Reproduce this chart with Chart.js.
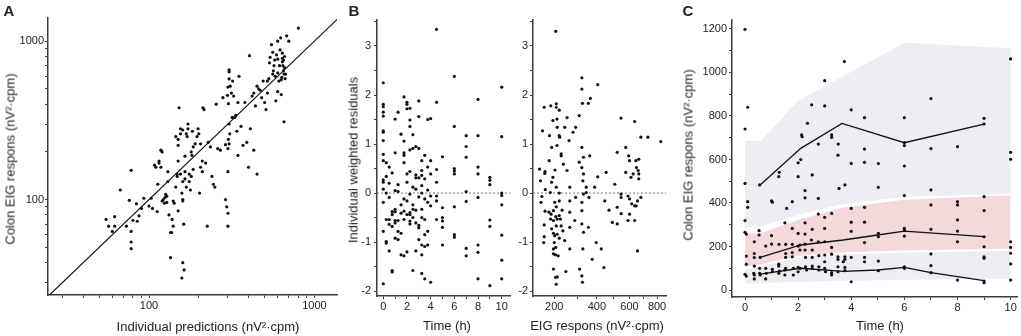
<!DOCTYPE html>
<html>
<head>
<meta charset="utf-8">
<script src="https://cdn.jsdelivr.net/npm/chart.js@4.4.1/dist/chart.umd.min.js"></script>
<style>
  body { margin: 0; background: #fff; }
  #wrap { position: relative; width: 1021px; height: 336px; overflow: hidden;
          font-family: "Liberation Sans", Arial, sans-serif; color: #222; }
  canvas { position: absolute; top: 0; }
  .panel { position: absolute; font-weight: bold; font-size: 15px; line-height: 1; transform: translate(-50%, -50%); }
  .xt { position: absolute; font-size: 13px; line-height: 1; white-space: nowrap; transform: translate(-50%, -50%); }
  .yt { position: absolute; font-size: 13px; line-height: 1; white-space: nowrap; transform: translate(-50%, -50%) rotate(-90deg); }
</style>
</head>
<body>
<div id="wrap">
  <canvas id="cA" width="345" height="336" style="left:0"></canvas>
  <canvas id="cB1" width="175" height="336" style="left:340px"></canvas>
  <canvas id="cB2" width="157" height="336" style="left:515px"></canvas>
  <canvas id="cC" width="331" height="336" style="left:690px"></canvas>

  <div class="panel" style="left:9px;top:10px">A</div>
  <div class="panel" style="left:354px;top:10px">B</div>
  <div class="panel" style="left:688px;top:10px">C</div>

  <div class="yt" style="left:10px;top:159px">Colon EIG respons (nV²·cpm)</div>
  <div class="xt" style="left:208px;top:326px">Individual predictions (nV²·cpm)</div>
  <div class="yt" style="left:353px;top:160px">Individual weighted residuals</div>
  <div class="xt" style="left:447px;top:325px">Time (h)</div>
  <div class="xt" style="left:597px;top:325px">EIG respons (nV²·cpm)</div>
  <div class="yt" style="left:688px;top:155px">Colon EIG respons (nV²·cpm)</div>
  <div class="xt" style="left:880px;top:325px">Time (h)</div>
</div>

<script>
// ---- panel A: observed vs individual predictions (log-log)
const aPred = [
  55, 57, 62, 62, 60, 73, 67, 76, 78, 78,
  78, 78, 80, 85, 87, 84, 93, 90, 100, 103,
  105, 108, 112, 113, 115, 118, 120, 120, 122, 125,
  126, 128, 124, 128, 118, 110, 115, 130, 130, 132,
  135, 137, 138, 140, 135, 140, 142, 145, 148, 148,
  150, 145, 150, 150, 152, 155, 155, 158, 160, 160,
  160, 162, 163, 165, 165, 168, 168, 170, 172, 172,
  175, 175, 160, 155, 158, 150, 160, 165, 178, 180,
  180, 182, 183, 185, 185, 190, 195, 198, 200, 202,
  205, 205, 210, 210, 212, 215, 220, 225, 228, 235,
  240, 245, 250, 255, 260, 270, 280, 290, 295, 300,
  300, 300, 300, 302, 305, 305, 308, 310, 305, 305,
  315, 318, 320, 325, 330, 335, 340, 345, 345, 350,
  360, 370, 380, 390, 400, 405, 410, 420, 430, 440,
  450, 430, 450, 460, 470, 480, 490, 500, 510, 520,
  530, 535, 540, 550, 560, 565, 570, 575, 580, 590,
  600, 600, 610, 615, 620, 625, 630, 630, 635, 640,
  640, 645, 650, 655, 655, 660, 665, 670, 680, 700,
  800, 585, 600, 640, 650, 660, 520, 560, 600, 305,
  300, 298, 302, 290
];
const aObs = [
  75, 68, 78, 68, 63, 68, 115, 99, 153, 63,
  54, 49, 74, 73, 79, 94, 102, 88, 91, 102,
  88, 165, 84, 125, 170, 205, 200, 98, 100, 103,
  108, 105, 95, 96, 160, 160, 175, 150, 130, 80,
  62, 62, 75, 68, 43, 98, 95, 120, 140, 145,
  175, 250, 240, 220, 380, 280, 145, 110, 100, 98,
  130, 70, 36, 150, 135, 120, 260, 250, 280, 300,
  145, 130, 275, 260, 32, 85, 40, 188, 115, 140,
  200, 190, 270, 215, 155, 225, 250, 280, 260, 110,
  160, 225, 150, 175, 380, 370, 170, 68, 230, 215,
  140, 125, 120, 400, 210, 205, 440, 100, 90, 82,
  68, 150, 210, 240, 300, 225, 260, 520, 660, 640,
  470, 330, 560, 450, 330, 340, 270, 190, 410, 600,
  290, 220, 410, 230, 160, 810, 280, 450, 205, 390,
  145, 470, 520, 500, 490, 440, 560, 410, 370, 470,
  580, 730, 790, 950, 620, 650, 700, 760, 600, 820,
  770, 630, 560, 700, 880, 1050, 570, 460, 590, 780,
  840, 700, 650, 620, 310, 680, 580, 620, 1080, 1000,
  1210, 420, 480, 740, 760, 800, 560, 850, 1000, 578,
  513, 455, 403, 222
];
const aLineEnds = [10, 2000];
const aTicks = [30, 40, 50, 60, 70, 80, 90, 100, 200, 300, 400, 500, 600, 700, 800, 900, 1000];
const aLabels = [100, 1000];

// ---- panel B left: residuals vs time
const bTimes = [0, 0.25, 0.5, 0.75, 1, 1.25, 1.5, 1.75, 2, 2.25, 2.5, 2.75, 3, 3.25, 3.5, 3.75, 4, 4.5, 5, 6, 7, 8, 9, 10];
const bTimeRes = [
  [2.25, 1.81, 1.76, 1.65, 1.57, 1.27, 1.24, 1.07, 0.79, 0.66, 0.27, 0.22, 0.08, -0.19, -0.78, -1.85],
  [0.62, 0.34, 0, -0.54, -0.99, -1.02],
  [0.53, 0.2, -0.09, -0.54, -0.64, -1.18],
  [0.41, -0.38, -0.44, -0.68, -1.58, -1.61],
  [1.51, 0.82, 0.05, -0.33, -0.38, -0.56, -0.61, -0.92],
  [1.65, 0.17, 0.03, -0.56, -0.78, -0.95],
  [1.2, -0.24, -0.41, -0.82, -1.26],
  [1.96, 1.06, 0.82, 0.77, 0.62, -0.12, -0.37, -0.54, -1.28],
  [1.85, 1.81, 1.72, 0.39, 0.22, -0.16, -0.44, -1.2],
  [1.73, 1.49, 1.36, 0.88, 0.44, -0.02, -0.4, -0.44, -0.57, -0.63],
  [1.19, 0.91, 0.12, -0.24, -0.33, -0.5, -1.58],
  [0.95, 0.37, 0.31, 0.08, -0.35, -0.61, -1.18],
  [1.88, 1.56, 0.91, 0.31, -0.08, -0.66, -0.71, -0.95],
  [0.66, 0.46, 0.36, 0.15, 0, -0.33, -0.5, -1.06, -1.26, -1.64],
  [0.77, 0.29, -0.12, -0.54, -0.85, -1.09, -1.75],
  [1.5, 0.53, 0.06, -0.19, -0.78, -1.06],
  [1.52, 0.66, 0.39, -0.06, -0.26, -1.82],
  [3.34, 1.85, 0.48, 0.22, -0.06, -0.16, -0.54],
  [0.74, -0.3, -0.5, -0.57, -0.7, -1.06],
  [2.38, 1.36, 0.5, 0.45, 0.39, -0.28, -0.85, -0.9],
  [1.17, 0.95, 0.73, 0.03, -0.17, -1.13, -1.28],
  [1.91, 1.17, 0.53, 0.39, -0.09, -1.06, -1.21, -1.75],
  [0.32, 0.26, 0.17, -0.55, -0.68, -1.89],
  [2.16, 1.15, 0, -0.05, -0.24, -0.86, -1.37, -1.75]
];
const bTimeTicks = [0, 1, 2, 3, 4, 5, 6, 7, 8, 9, 10];
const bTimeLabels = [0, 2, 4, 6, 8, 10];
const bResTicks = [-2, -1.5, -1, -0.5, 0, 0.5, 1, 1.5, 2, 2.5, 3, 3.5];
const bResLabels = [-2, -1, 0, 1, 2, 3];

// ---- panel B right: residuals vs EIG respons (square-root axis)
const bEig = [
  206, 163, 187, 208, 208, 220, 195, 211, 157, 212,
  182, 220, 222, 190, 211, 228, 228, 181, 203, 166,
  147, 150, 165, 195, 190, 167, 185, 208, 220, 155,
  152, 166, 180, 188, 197, 202, 208, 220, 186, 197,
  206, 212, 220, 225, 163, 190, 208, 228, 163, 197,
  202, 212, 220, 161, 200, 206, 197, 216, 197, 205,
  197, 205, 208, 212, 232, 235,
  253, 243, 280, 262, 292, 322, 322, 325, 355, 365,
  405, 309, 322, 330, 309, 237, 253, 322, 330, 327,
  362, 405, 292, 322, 330, 344, 344, 358, 388, 265,
  265, 265, 288, 265, 322, 322, 330, 355, 243, 265,
  327, 397, 425, 375, 248, 311, 322, 325, 440,
  453, 505, 445, 470, 490, 520, 545, 520, 544, 635,
  575, 595, 600, 575, 610, 625, 644, 648, 660, 664,
  664, 544, 590, 600, 615, 635, 645, 655, 679, 600,
  545, 590, 635, 520, 655, 679, 730, 829, 664
];
const bEigRes = [
  3.3, 1.75, 1.78, 1.82, 1.75, 1.69, 1.48, 1.51, 1.27, 1.34,
  1.17, 1.17, 1.14, 0.93, 0.97, 0.8, 0.76, 0.66, 0.47, 0.44,
  0.49, 0.25, 0.4, 0.32, 0.22, 0.07, 0.01, 0.12, 0, -0.07,
  -0.19, -0.37, -0.39, -0.43, -0.36, -0.19, -0.28, -0.16, -0.53, -0.56,
  -0.48, -0.53, -0.46, -0.53, -0.65, -0.73, -0.67, -0.67, -0.89, -0.82,
  -0.87, -0.84, -0.92, -1.01, -1.01, -1.11, -1.14, -1.28, -1.24, -1.26,
  -1.55, -1.72, -1.86, -1.71, -0.35, -0.77,
  1.54, 1.34, 1.24, 1.07, 1.34, 2.35, 2.12, 1.83, 1.83, 1.93,
  2.21, 1.58, 0.93, 0.73, 0.63, 0.59, 0.46, 0.52, 0.39, 0.25,
  0.76, 0.33, -0.09, -0.19, -0.02, 0.12, 0.01, -0.09, 0.12, 0.12,
  -0.16, -0.39, -0.56, -0.7, -0.36, -0.63, -0.8, -0.7, -0.97, -1.14,
  -1.14, -1.01, -1.14, -1.35, -1.6, -1.55, -1.69, -1.82, -1.52,
  0.42, 0.18, -0.16, -0.35, -0.6, -0.29, -0.09, 0.83, 1.53, 1.46,
  0.93, 0.76, 0.66, 0.42, 0.32, 0.39, 0.66, 0.52, 0.46, 0.39,
  0.29, -0.02, -0.06, -0.12, -0.22, -0.26, -0.26, -0.16, -0.09, -0.43,
  -0.42, -0.56, -0.56, -0.63, -1.18, 1.14, 1.14, 1.05, 0.69
];
const bEigTicks = [200, 300, 400, 500, 600, 700, 800];
const bEigLabels = [200, 400, 600, 800];

// ---- panel C: visual predictive check
const cTime = [
  0, 0.1, 0, 0, 0.1, 0.1, 0, 0, 0.05, 0.05, 0.05, 0, 0.05,
  0.35, 0.35, 0.35, 0.35, 0.33, 0.35, 0.35,
  0.55, 0.53, 0.53, 0.57, 0.55, 0.55, 0.57,
  0.78, 0.78, 0.8, 0.78,
  1.0, 1.03, 1.0, 1.0, 1.03, 1.03,
  1.27, 1.29, 1.28, 1.27, 1.27, 1.27, 1.29,
  1.5, 1.57, 1.53, 1.53, 1.53, 1.5, 1.53, 1.5,
  1.78, 1.78, 1.78, 1.78, 1.78, 1.82, 1.82,
  2.0, 2.1, 2.0, 2.0, 2.0, 2.07, 2.07, 2.0, 2.07, 2.0, 2.13, 2.15,
  2.26, 2.26, 2.26, 2.26, 2.26, 2.26, 2.28, 2.28, 2.32, 2.35,
  2.53, 2.53, 2.5, 2.53, 2.53, 2.53, 2.53, 2.51,
  2.76, 2.76, 2.76, 2.76, 2.78, 2.78, 2.78,
  3.0, 3.0, 3.0, 3.0, 3.0, 3.0, 3.0, 3.0, 3.03,
  3.26, 3.26, 3.26, 3.26, 3.26, 3.26, 3.26,
  3.51, 3.5, 3.54, 3.5, 3.5, 3.5, 3.5,
  3.74, 3.76, 3.76, 3.76, 3.7, 3.76, 3.76,
  4, 4, 4, 4, 4, 4, 4,
  4.5, 4.5, 4.5, 4.5, 4.5, 4.5, 4.5, 4.5,
  5.02, 5.02, 5.02, 5.02, 5.02, 5.02,
  6, 6, 6, 6, 6, 6, 6, 6, 6, 6,
  7, 7, 7, 7, 7, 7, 7, 7,
  8, 8, 8, 8, 8, 8, 8,
  9, 9, 9, 9, 9, 9, 9, 9, 9, 9,
  10, 10, 10, 10, 10, 10, 10, 10
];
const cObs = [
  1198, 840, 740, 490, 406, 380, 319, 265, 257, 156, 118, 72, 64,
  222, 168, 149, 110, 77, 69, 51,
  483, 273, 253, 150, 100, 77, 69,
  202, 100, 77, 51,
  410, 404, 250, 211, 95, 84,
  521, 541, 210, 119, 110, 77, 87,
  309, 375, 210, 168, 150, 92, 100, 69,
  406, 283, 210, 172, 153, 100, 69,
  585, 600, 521, 260, 202, 207, 184, 104, 100, 84, 713, 705,
  457, 424, 309, 257, 211, 184, 150, 107, 92, 766,
  529, 279, 230, 184, 150, 110, 100, 851,
  671, 421, 349, 222, 158, 107, 92,
  962, 846, 334, 283, 222, 161, 130, 100, 84,
  713, 702, 352, 196, 165, 80, 69,
  671, 620, 467, 153, 141, 107, 84,
  1050, 483, 153, 141, 130, 104, 89,
  828, 582, 375, 312, 270, 150, 38,
  792, 648, 587, 380, 312, 218, 150, 130,
  581, 472, 261, 245, 133, 89,
  792, 677, 664, 570, 434, 284, 276, 248, 107, 100,
  880, 650, 460, 391, 279, 166, 112, 80,
  659, 406, 391, 322, 271, 222, 46,
  789, 763, 429, 365, 245, 199, 153, 146, 41, 34,
  1062, 633, 601, 222, 196, 169, 120, 46
];
// observed percentile lines
const cP95Time = [0.57, 2.1, 3.65, 6, 9];
const cP95 = [483, 651, 766, 677, 763];
const cP50Time = [0.57, 2.1, 3.7, 5, 6, 9];
const cP50 = [150, 207, 230, 253, 271, 245];
const cP5Time = [0.57, 2.1, 3.7, 5, 6, 7, 9];
const cP5 = [73, 100, 86, 92, 104, 80, 43];
// simulated confidence bands
const cBandTime = [0, 0.6, 2, 3.6, 6, 10];
const cUpTop = [686, 686, 870, 977, 1137, 1111];
const cUpBot = [290, 292, 345, 393, 429, 441];
const cMidTop = [258, 262, 322, 377, 415, 436];
const cMidBot = [107, 118, 158, 172, 182, 191];
const cLowTop = [96, 108, 148, 163, 172, 181];
const cLowBot = [30, 32, 38, 42, 47, 52];
const cTimeTicks = [0, 1, 2, 3, 4, 5, 6, 7, 8, 9, 10];
const cTimeLabels = [0, 2, 4, 6, 8, 10];
const cObsTicks = [0, 100, 200, 300, 400, 500, 600, 700, 800, 900, 1000, 1100, 1200];
const cObsLabels = [0, 200, 400, 600, 800, 1000, 1200];

// square-root axis for the EIG respons panel
class SqrtScale extends Chart.LinearScale {
  configure() {
    super.configure();
    this._sMin = Math.sqrt(this.min);
    this._sRange = Math.sqrt(this.max) - this._sMin;
  }
  getPixelForValue(value) {
    return this.getPixelForDecimal((Math.sqrt(value) - this._sMin) / this._sRange);
  }
  getValueForPixel(pixel) {
    const s = this._sMin + this.getDecimalForPixel(pixel) * this._sRange;
    return s * s;
  }
}
SqrtScale.id = 'sqrt';
SqrtScale.defaults = {};
Chart.register(SqrtScale);

Chart.defaults.font.family = '"Liberation Sans", Arial, sans-serif';
Chart.defaults.color = '#222';

const axisColor = '#3c3c3c';
const dotColor = '#111';

const zeroLine = {
  id: 'zeroLine',
  beforeDatasetsDraw(chart) {
    const { ctx, chartArea } = chart;
    const py = chart.scales.y.getPixelForValue(0);
    ctx.save();
    ctx.strokeStyle = '#777';
    ctx.lineWidth = 1;
    ctx.setLineDash([2, 2]);
    ctx.beginPath();
    ctx.moveTo(chartArea.left, py);
    ctx.lineTo(chartArea.right, py);
    ctx.stroke();
    ctx.restore();
  }
};

function pairs(xs, ys) {
  return xs.map((x, i) => ({ x: x, y: ys[i] }));
}

function scaleCfg(type, min, max, tickVals, labelVals, fit, pad) {
  return {
    type: type, min: min, max: max,
    afterBuildTicks: s => { s.ticks = tickVals.map(v => ({ value: v })); },
    afterFit: fit,
    grid: { drawOnChartArea: false, drawTicks: true, tickLength: 3, tickColor: axisColor, tickWidth: 1 },
    border: { display: true, color: axisColor, width: 1.5 },
    ticks: {
      autoSkip: false, maxRotation: 0, padding: pad, color: '#222', font: { size: 11 },
      callback: v => labelVals.includes(v) ? String(v) : ''
    }
  };
}

function common(top, right, scales) {
  return {
    responsive: false, animation: false, events: [],
    layout: { padding: { left: 0, bottom: 0, top: top, right: right } },
    plugins: { legend: { display: false }, tooltip: { enabled: false } },
    scales: scales
  };
}

function dots(data) {
  return { data: data, pointRadius: 1.6, pointBackgroundColor: dotColor, pointBorderWidth: 0, order: 0 };
}

// A
new Chart(document.getElementById('cA'), {
  type: 'scatter',
  data: { datasets: [
    dots(pairs(aPred, aObs)),
    { data: pairs(aLineEnds, aLineEnds), showLine: true, borderColor: '#111', borderWidth: 1.2, pointRadius: 0, order: 1 }
  ] },
  options: common(18, 8, {
    x: scaleCfg('logarithmic', 24.5, 1370, aTicks, aLabels, s => { s.height = 41; }, 1),
    y: scaleCfg('logarithmic', 25, 1400, aTicks, aLabels, s => { s.width = 48; }, 1)
  })
});

// B left
new Chart(document.getElementById('cB1'), {
  type: 'scatter',
  data: { datasets: [
    dots(bTimes.flatMap((t, i) => bTimeRes[i].map(r => ({ x: t, y: r }))))
  ] },
  options: common(20, 5, {
    x: scaleCfg('linear', -0.53, 10.7, bTimeTicks, bTimeLabels, s => { s.height = 40; }, 1),
    y: scaleCfg('linear', -2.1, 3.53, bResTicks, bResLabels, s => { s.width = 37; }, 3)
  }),
  plugins: [zeroLine]
});

// B right
new Chart(document.getElementById('cB2'), {
  type: 'scatter',
  data: { datasets: [ dots(pairs(bEig, bEigRes)) ] },
  options: common(20, 6, {
    x: scaleCfg('sqrt', 126, 871, bEigTicks, bEigLabels, s => { s.height = 40; }, 1),
    y: scaleCfg('linear', -2.1, 3.53, bResTicks, bResLabels, s => { s.width = 18; }, 2)
  }),
  plugins: [zeroLine]
});

// C
const gray = 'rgb(237,238,242)';
const pink = 'rgb(244,217,218)';
function band(values, fillColor) {
  return { data: pairs(cBandTime, values), showLine: true, borderWidth: 0, borderColor: 'transparent',
           pointRadius: 0, backgroundColor: fillColor, fill: fillColor ? '+1' : false, order: 2 };
}
function pLine(xs, ys) {
  return { data: pairs(xs, ys), showLine: true, borderColor: '#111', borderWidth: 1.3, pointRadius: 0, order: 1 };
}
new Chart(document.getElementById('cC'), {
  type: 'scatter',
  data: { datasets: [
    dots(pairs(cTime, cObs)),
    pLine(cP95Time, cP95),
    pLine(cP50Time, cP50),
    pLine(cP5Time, cP5),
    band(cUpTop, gray), band(cUpBot, null),
    band(cMidTop, pink), band(cMidBot, null),
    band(cLowTop, gray), band(cLowBot, null)
  ] },
  options: common(20, 4, {
    x: scaleCfg('linear', -0.49, 10.24, cTimeTicks, cTimeLabels, s => { s.height = 39; }, 1),
    y: scaleCfg('linear', -32, 1241, cObsTicks, cObsLabels, s => { s.width = 42; }, 2)
  })
});
</script>
</body>
</html>
